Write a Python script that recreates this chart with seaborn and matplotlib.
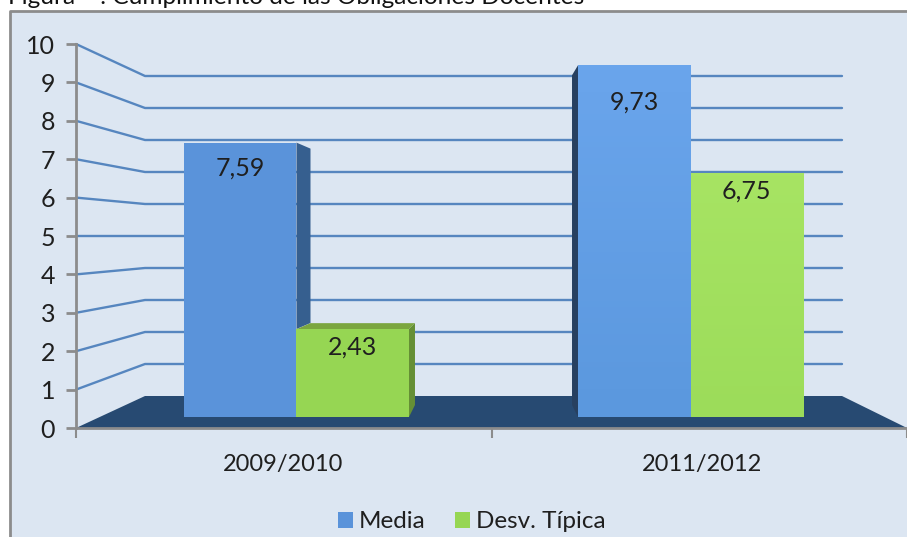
import seaborn as sns
import matplotlib.pyplot as plt
import numpy as np
import pandas as pd
from matplotlib.colors import LinearSegmentedColormap
from matplotlib.patches import Polygon

W, H = 907, 537

years = ['2009/2010', '2011/2012']
media = [7.59, 9.73]
desv = [2.43, 6.75]
series_names = ['Media', 'Desv. Típica']
y_ticks = [0, 1, 2, 3, 4, 5, 6, 7, 8, 9, 10]
label_text = ['7,59', '9,73', '2,43', '6,75']

sns.set_theme(style='white')
plt.rcParams['font.family'] = ['Lato', 'DejaVu Sans']

BG = '#dce6f2'
FLOOR = '#274a72'
GRID = '#4f81bd'
AXIS = '#8c8c8c'
TEXT = '#1f1f1f'


def px_axes(fig, left, right, top, bottom, **kw):
    # axes placed by image pixels, y measured from the top
    return fig.add_axes([left / W, 1 - bottom / H, (right - left) / W, (bottom - top) / H], **kw)


df = pd.DataFrame({
    'year': years * 2,
    'value': media + desv,
    'serie': [series_names[0]] * 2 + [series_names[1]] * 2,
})

fig = plt.figure(figsize=(W / 100, H / 100), dpi=100, facecolor='white')

# Chart area with grey border on top and left
bg = px_axes(fig, 0, W, 0, H)
bg.set_xlim(0, W)
bg.set_ylim(H, 0)
bg.axis('off')
bg.add_patch(Polygon([(10, 11), (W, 11), (W, H), (10, H)], closed=True, fc=BG, ec='none'))
bg.plot([9.5, 9.5, W], [H, 10.5, 10.5], color=AXIS, lw=2, solid_capstyle='butt')

# Title cut by the top of the image
bg.text(8, 4, 'Figura    : Cumplimiento de las Obligaciones Docentes', fontsize=17.6,
        color='#111111', ha='left', va='baseline', clip_on=False)

# Front plane: value axis
front = px_axes(fig, 76, W, 44, 428)
front.patch.set_alpha(0)
front.set_ylim(0, 10)
front.set_xlim(0, 1)
front.set_yticks(y_ticks)
front.tick_params(axis='y', length=7, width=2, color=AXIS, labelsize=18, labelcolor=TEXT, pad=8, left=True)
front.set_xticks([0, 0.5, 1])
front.set_xticklabels([])
front.tick_params(axis='x', length=7, width=1.5, color=AXIS, bottom=True)
for side in ['top', 'right']:
    front.spines[side].set_visible(False)
for side in ['left', 'bottom']:
    front.spines[side].set_color(AXIS)
    front.spines[side].set_linewidth(2)

# Walls and floor in pixel space
for v in y_ticks[1:]:
    yf = 428 - 38.4 * v
    yb = 396 - 32 * v
    bg.plot([76, 145, 842], [yf, yb, yb], color=GRID, lw=1.7, alpha=0.95, zorder=2)
bg.add_patch(Polygon([(76, 428), (145, 396), (842, 396), (907, 428)], closed=True, fc=FLOOR, ec='none', zorder=3))

# Bars in their own plane
bars = px_axes(fig, 145, 842, 55.5, 417)
bars.patch.set_alpha(0)
sns.barplot(data=df, x='year', y='value', hue='serie', palette=['#5a93da', '#96d653'],
            width=0.571, gap=0, saturation=1, linewidth=0, ax=bars, legend=True)
bars.set_xlim(-0.3845, 1.3845)
bars.set_ylim(0, 10)
bars.set_xlabel('')
bars.set_ylabel('')
bars.set_yticks([])
bars.set_xticks([])
bars.axis('off')

handles, labels = bars.get_legend_handles_labels()
bars.get_legend().remove()

rects = [p for c in bars.containers for p in c]
to_px = bars.transData
inv = bg.transData.inverted()


def corners(p):
    x0, y0 = inv.transform(to_px.transform((p.get_x(), p.get_y())))
    x1, y1 = inv.transform(to_px.transform((p.get_x() + p.get_width(), p.get_height())))
    return x0, y0, x1, y1


# Right side of Media 2009/2010, hidden below by the green bar
x0, y0, x1, y1 = corners(rects[0])
bg.add_patch(Polygon([(x1, y1), (x1 + 14, y1 + 6), (x1 + 14, 323), (x1, 329)], fc='#365f8f', ec='none', zorder=4))

# Left side of Media 2011/2012
x0, y0, x1, y1 = corners(rects[1])
bg.add_patch(Polygon([(x0, y1), (x0 - 6, y1 + 10), (x0 - 6, 405), (x0, y0)], fc='#274060', ec='none', zorder=4))

# Top and right side of Desv. Típica 2009/2010
x0, y0, x1, y1 = corners(rects[2])
bg.add_patch(Polygon([(x0, y1), (x0 + 14, y1 - 6), (x1 + 6, y1 - 6), (x1, y1)], fc='#7ba63f', ec='none', zorder=4))
bg.add_patch(Polygon([(x1, y1), (x1 + 6, y1 - 6), (x1 + 6, 405), (x1, y0)], fc='#658f35', ec='none', zorder=4))

# Soft vertical gradient on the second group
for p, cols in [(rects[1], ['#5b98de', '#6aa5ec']), (rects[3], ['#9cdc5a', '#a7e463'])]:
    cmap = LinearSegmentedColormap.from_list('face', cols)
    img = bars.imshow(np.linspace(1, 0, 64).reshape(-1, 1), cmap=cmap, aspect='auto', zorder=2,
                      extent=[p.get_x(), p.get_x() + p.get_width(), 0, p.get_height()])
    img.set_clip_path(p)
bars.set_xlim(-0.3845, 1.3845)
bars.set_ylim(0, 10)

# Value labels, each sits at its own distance under the bar top
drops = [25, 37, 18, 18]
for p, txt, d in zip(rects, label_text, drops):
    bars.annotate(txt, (p.get_x() + p.get_width() / 2, p.get_height()), xytext=(0, -d * 0.72),
                  textcoords='offset points', ha='center', va='center', fontsize=18, color=TEXT, zorder=6)

# Category labels
bg.text(283, 465, years[0], fontsize=17, color=TEXT, ha='center', va='center')
bg.text(702, 465, years[1], fontsize=17, color=TEXT, ha='center', va='center')

bars.set_zorder(5)
fig.legend(handles, labels, loc='center', bbox_to_anchor=(472 / W, 1 - 522 / H), ncol=2, frameon=False,
           fontsize=17.5, handlelength=0.62, handleheight=0.62, handletextpad=0.25, columnspacing=1.2,
           labelcolor=TEXT)

fig.savefig('out.png', dpi=100)
